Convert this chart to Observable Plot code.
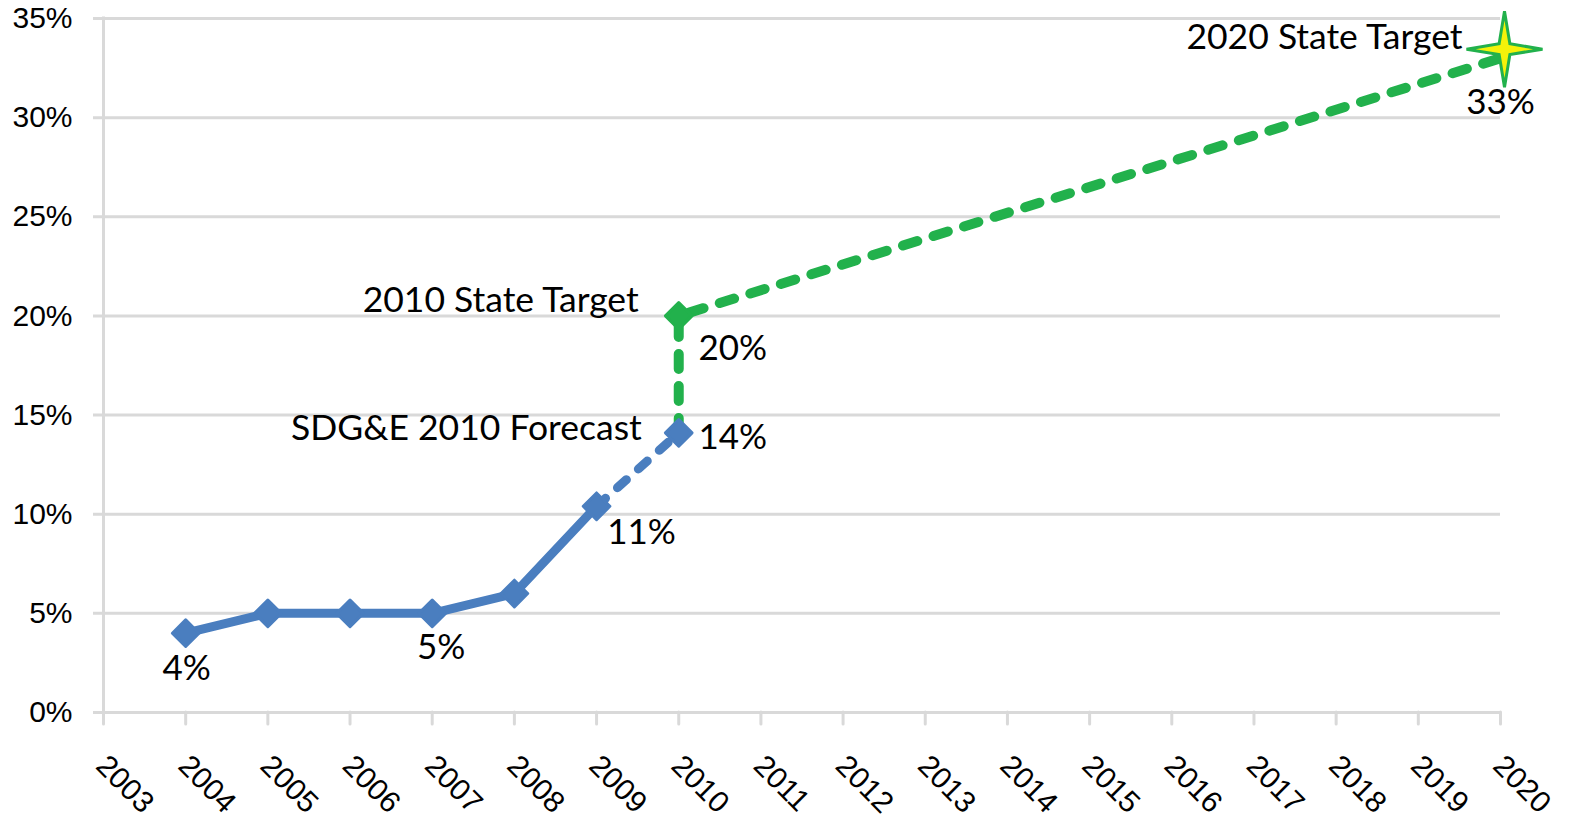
<!DOCTYPE html>
<html><head><meta charset="utf-8">
<script src="https://cdn.jsdelivr.net/npm/d3@7"></script>
<script src="https://cdn.jsdelivr.net/npm/@observablehq/plot@0.6"></script>
<style>html,body{margin:0;padding:0;background:#fff;} svg{display:block}</style>
</head><body><div id="chart"></div>
<script>
// ---- data ----
const years = [2003,2004,2005,2006,2007,2008,2009,2010,2011,2012,2013,2014,2015,2016,2017,2018,2019,2020];
const yTicks = [0,5,10,15,20,25,30,35];
const actualYears = [2004,2005,2006,2007,2008,2009];
const actualValues = [4,5,5,5,6,10.4];
const forecastYears = [2009,2010];
const forecastValues = [10.4,14.1];
const targetYears = [2010,2010,2020];
const targetValues = [14.1,20,33];
const labelYears = [2004,2007,2009,2010,2010,2020];
const labelValues = [4,5,10.4,14.1,20,33];
const labelTexts = ["4%","5%","11%","14%","20%","33%"];
const noteYears = [2010,2010,2020];
const noteValues = [14.1,20,33];
const noteTexts = ["SDG&E 2010 Forecast","2010 State Target","2020 State Target"];

// ---- tables ----
const actual = actualYears.map((x,i)=>({x, y: actualValues[i]}));
const forecast = forecastYears.map((x,i)=>({x, y: forecastValues[i]}));
const target = targetYears.map((x,i)=>({x, y: targetValues[i]}));
const labels = labelYears.map((x,i)=>({x, y: labelValues[i], t: labelTexts[i]}));
const notes = noteYears.map((x,i)=>({x, y: noteValues[i], t: noteTexts[i]}));

const BLUE = "#4a7ebf", GREEN = "#22b14c", GRID = "#d9d9d9";
const LABEL_FONT = "Lato, 'Open Sans', sans-serif";
const AXIS_FONT = "'Liberation Sans', Arial, sans-serif";

const star4 = {
  draw(ctx, size) {
    const R = Math.sqrt(size / Math.PI), r = R * 0.2;
    for (let i = 0; i < 8; i++) {
      const a = i * Math.PI / 4 - Math.PI / 2, rad = i % 2 ? r : R;
      const px = rad * Math.cos(a), py = rad * Math.sin(a);
      if (i === 0) ctx.moveTo(px, py); else ctx.lineTo(px, py);
    }
    ctx.closePath();
  }
};

// label placements (screen offsets)
const labelOffset = {"4%":[1,36],"5%":[9,34],"11%":[45,27],"14%":[54,5],"20%":[54,33],"33%":[0,45]};
const noteOffset = {"SDG&E 2010 Forecast":[-37,-4],"2010 State Target":[-40,-15],"2020 State Target":[-38,-21]};

const chart = Plot.plot({
  width: 1573, height: 822,
  marginLeft: 103, marginRight: 73, marginTop: 18, marginBottom: 110,
  style: {background: "#fff", overflow: "visible"},
  x: {domain: [2003, 2020], axis: null},
  y: {domain: [0, 35], axis: null},
  marks: [
    Plot.ruleY(yTicks, {stroke: GRID, strokeWidth: 3, insetLeft: -10}),
    Plot.ruleX([years[0]], {stroke: GRID, strokeWidth: 3, insetBottom: -12, insetTop: -1.5}),
    Plot.axisX({ticks: years, tickSize: 12, stroke: GRID, strokeWidth: 3, fill: "none", label: null, strokeLinecap: "round"}),
    Plot.axisX({ticks: years, tickSize: 0, tickPadding: 55, tickRotate: 45, textAnchor: "start", lineAnchor: "bottom",
      tickFormat: d => String(d), fill: "#000", fontSize: 30, fontFamily: AXIS_FONT, dx: -9, label: null}),
    Plot.axisY({ticks: yTicks, tickSize: 0, tickPadding: 31, tickFormat: d => d + "%", fill: "#000",
      fontSize: 30, fontFamily: AXIS_FONT, label: null}),
    Plot.line(target, {x: "x", y: "y", stroke: GREEN, strokeWidth: 10, strokeDasharray: "15,17", strokeLinecap: "round", strokeLinejoin: "round"}),
    Plot.line(forecast, {x: "x", y: "y", stroke: BLUE, strokeWidth: 9, strokeDasharray: "12,16", strokeLinecap: "round"}),
    Plot.line(actual, {x: "x", y: "y", stroke: BLUE, strokeWidth: 9, strokeLinejoin: "round"}),
    Plot.dot(target.filter(d => d.y === targetValues[1]), {x: "x", y: "y", symbol: "diamond2", r: 12, fill: GREEN, stroke: GREEN, strokeWidth: 3, strokeLinejoin: "round"}),
    Plot.dot([...actual, forecast[1]], {x: "x", y: "y", symbol: "diamond2", r: 12, fill: BLUE, stroke: BLUE, strokeWidth: 3, strokeLinejoin: "round"}),
    Plot.dot(target.slice(-1), {x: "x", y: "y", symbol: star4, r: 38, fill: "#f5f20a", stroke: GREEN, strokeWidth: 3, dx: 4, dy: -9}),
    ...labels.map(d => Plot.text([d], {x: "x", y: "y", text: "t", fontSize: 35, fontFamily: LABEL_FONT, fill: "#000",
      dx: labelOffset[d.t][0], dy: labelOffset[d.t][1]})),
    ...notes.map(d => Plot.text([d], {x: "x", y: "y", text: "t", fontSize: 35.5, fontFamily: LABEL_FONT, fill: "#000", textAnchor: "end",
      dx: noteOffset[d.t][0], dy: noteOffset[d.t][1]}))
  ]
});
document.getElementById("chart").appendChild(chart);
</script>
</body></html>
